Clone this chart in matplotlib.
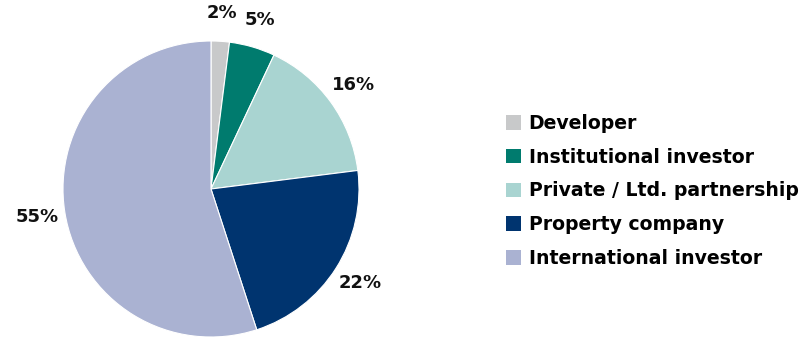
import matplotlib.pyplot as plt
from matplotlib.patches import Patch

# data
categories = ['Developer', 'Institutional investor', 'Private / Ltd. partnership',
              'Property company', 'International investor']
shares = [2, 5, 16, 22, 55]
colors = ['#c8c9ca', '#007b6e', '#a9d4d1', '#00346f', '#aab2d2']

fig = plt.figure(figsize=(8.09, 3.38), dpi=100)
ax = fig.add_axes([63 / 809, 1 / 338, 296 / 809, 296 / 338])

ax.pie(shares, colors=colors, startangle=90, counterclock=False,
       autopct='%d%%', pctdistance=1.19,
       wedgeprops={'edgecolor': 'white', 'linewidth': 0.8},
       textprops={'fontsize': 13, 'fontweight': 'bold', 'color': '#111111'})
ax.set_xlim(-1, 1)
ax.set_ylim(-1, 1)
ax.set_aspect('equal')

handles = [Patch(facecolor=c, edgecolor='none') for c in colors]
fig.legend(handles, categories, loc='center left', bbox_to_anchor=(489 / 809, 0.435),
           frameon=False, prop={'size': 13.6, 'weight': 'bold'},
           handlelength=0.8, handleheight=0.8, handletextpad=0.4, labelspacing=0.78)

fig.savefig('out.png', dpi=100)
